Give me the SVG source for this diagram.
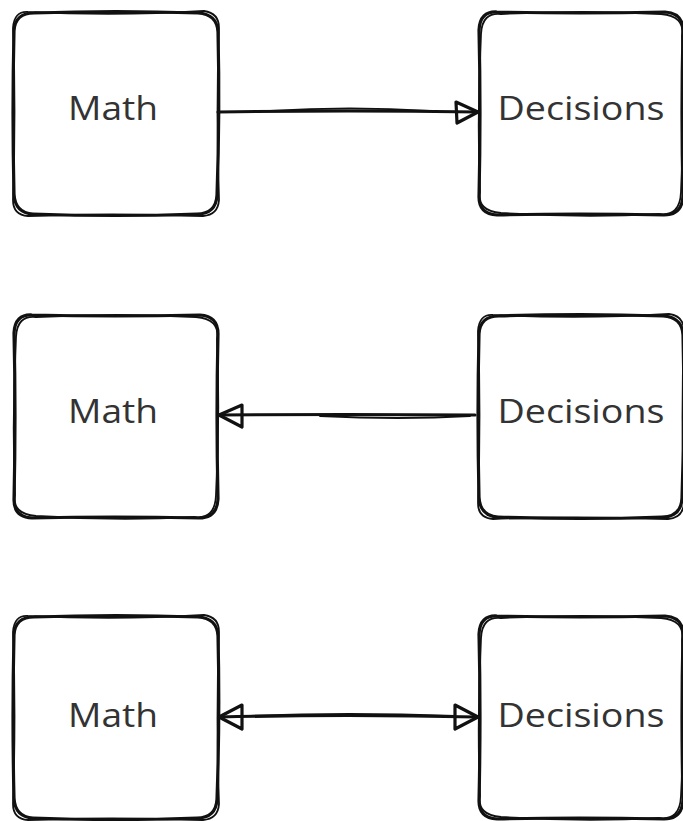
<svg xmlns="http://www.w3.org/2000/svg" xmlns:xlink="http://www.w3.org/1999/xlink" width="683" height="821" viewBox="0 0 683 821">
<style>
.s{fill:none;stroke:#111;stroke-width:3.2;stroke-linecap:round;stroke-linejoin:round}
.s2{fill:none;stroke:#111;stroke-width:1.8;stroke-linecap:round;stroke-linejoin:round}
.t{font-family:"Open Sans","Liberation Sans",sans-serif;font-size:32px;fill:#333;text-anchor:middle}
</style>
<defs>
<g id="boxA">
<path class="s" d="M 20 1 Q 102 -2 184 1 Q 203 2 204 20 Q 206 101 203 183 Q 202 202 183 202 Q 102 205 19 202 Q 1 201 0 182 Q -2 101 0 19 Q 1 1 20 1 Z"/>
<path class="s2" d="M 14 0 Q 106 4 190 -1 Q 205 1 205 16 Q 202 104 205 188 Q 204 203 189 204 Q 96 201 14 204 Q -1 203 -1 188 Q 2 98 -1 16 Q 0 -1 14 0 Z"/>
</g>
<g id="boxB">
<path class="s" d="M 18 0 Q 100 2 186 0 Q 204 1 204 19 Q 202 100 204 184 Q 203 203 185 203 Q 100 201 18 203 Q 0 202 0 185 Q 2 100 0 18 Q 1 -1 18 0 Z"/>
<path class="s2" d="M 22 2 Q 104 -2 182 2 Q 206 4 203 24 Q 206 104 202 180 Q 201 205 180 202 Q 104 206 22 201 Q -2 199 1 180 Q -2 104 2 22 Q 3 0 22 2 Z"/>
</g>
</defs>
<g id="math1"><use xlink:href="#boxA" transform="translate(14,12)"/><text class="t" x="113" y="120" textLength="90" lengthAdjust="spacingAndGlyphs">Math</text></g>
<g id="decisions1"><use xlink:href="#boxB" transform="translate(479,12)"/><text class="t" x="581" y="120" textLength="167" lengthAdjust="spacingAndGlyphs">Decisions</text></g>
<g id="math2"><use xlink:href="#boxB" transform="translate(14,315)"/><text class="t" x="113" y="423" textLength="90" lengthAdjust="spacingAndGlyphs">Math</text></g>
<g id="decisions2"><use xlink:href="#boxA" transform="translate(479,315)"/><text class="t" x="581" y="423" textLength="167" lengthAdjust="spacingAndGlyphs">Decisions</text></g>
<g id="math3"><use xlink:href="#boxA" transform="translate(14,616)"/><text class="t" x="113" y="727" textLength="90" lengthAdjust="spacingAndGlyphs">Math</text></g>
<g id="decisions3"><use xlink:href="#boxB" transform="translate(479,616)"/><text class="t" x="581" y="727" textLength="167" lengthAdjust="spacingAndGlyphs">Decisions</text></g>
<g id="connectors">
<path class="s" d="M 218 112 Q 348 110 478 112"/>
<path class="s2" d="M 270 111 Q 350 106 430 111"/>
<path class="s" d="M 456 102 L 478 112 L 457 123 Z"/>
<path class="s" d="M 475 415 Q 346 414 219 415"/>
<path class="s2" d="M 320 416 Q 400 420 470 416"/>
<path class="s" d="M 242 405 L 219 415 L 242 427 Z"/>
<path class="s" d="M 219 717 Q 348 714 477 717"/>
<path class="s2" d="M 245 716 Q 348 712 455 716"/>
<path class="s" d="M 242 705 L 219 717 L 242 729 Z"/>
<path class="s" d="M 455 705 L 478 717 L 455 729 Z"/>
</g>
</svg>
